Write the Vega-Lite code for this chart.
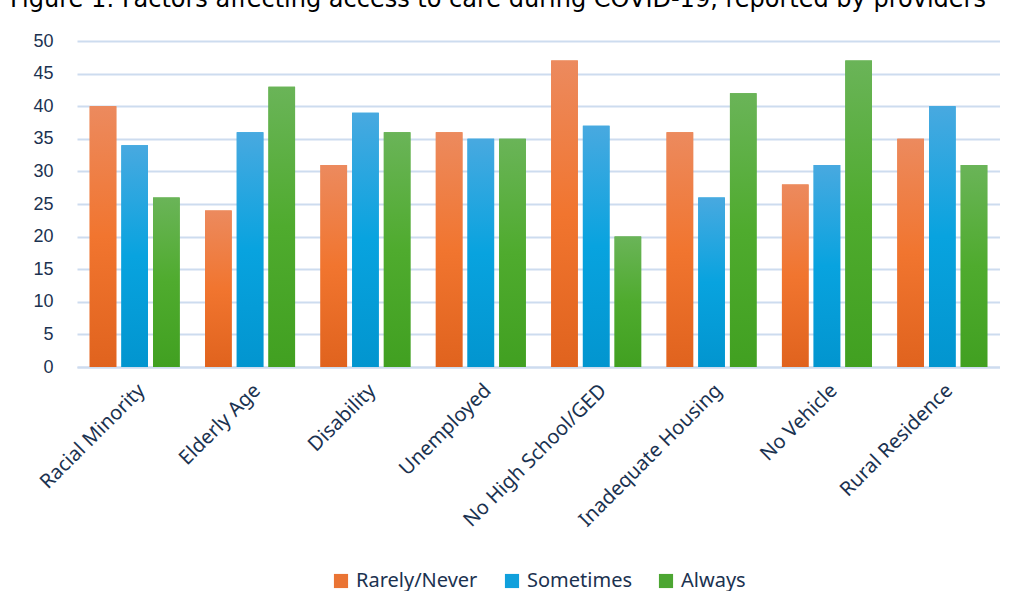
{
  "$schema": "https://vega.github.io/schema/vega-lite/v6.json",
  "width": 923,
  "height": 326,
  "padding": {"left": 10, "top": -12, "right": 0, "bottom": 0},
  "background": "white",
  "title": {
    "text": "Figure 1: Factors affecting access to care during COVID-19, reported by providers",
    "anchor": "start",
    "frame": "group",
    "font": "DejaVu Sans",
    "fontSize": 24,
    "fontWeight": "normal",
    "color": "#000000",
    "offset": 20,
    "dx": -67
  },
  "data": {
    "values": [
      {"Factor": "Racial Minority", "Response": "Rarely/Never", "Value": 40},
      {"Factor": "Racial Minority", "Response": "Sometimes", "Value": 34},
      {"Factor": "Racial Minority", "Response": "Always", "Value": 26},
      {"Factor": "Elderly Age", "Response": "Rarely/Never", "Value": 24},
      {"Factor": "Elderly Age", "Response": "Sometimes", "Value": 36},
      {"Factor": "Elderly Age", "Response": "Always", "Value": 43},
      {"Factor": "Disability", "Response": "Rarely/Never", "Value": 31},
      {"Factor": "Disability", "Response": "Sometimes", "Value": 39},
      {"Factor": "Disability", "Response": "Always", "Value": 36},
      {"Factor": "Unemployed", "Response": "Rarely/Never", "Value": 36},
      {"Factor": "Unemployed", "Response": "Sometimes", "Value": 35},
      {"Factor": "Unemployed", "Response": "Always", "Value": 35},
      {"Factor": "No High School/GED", "Response": "Rarely/Never", "Value": 47},
      {"Factor": "No High School/GED", "Response": "Sometimes", "Value": 37},
      {"Factor": "No High School/GED", "Response": "Always", "Value": 20},
      {"Factor": "Inadequate Housing", "Response": "Rarely/Never", "Value": 36},
      {"Factor": "Inadequate Housing", "Response": "Sometimes", "Value": 26},
      {"Factor": "Inadequate Housing", "Response": "Always", "Value": 42},
      {"Factor": "No Vehicle", "Response": "Rarely/Never", "Value": 28},
      {"Factor": "No Vehicle", "Response": "Sometimes", "Value": 31},
      {"Factor": "No Vehicle", "Response": "Always", "Value": 47},
      {"Factor": "Rural Residence", "Response": "Rarely/Never", "Value": 35},
      {"Factor": "Rural Residence", "Response": "Sometimes", "Value": 40},
      {"Factor": "Rural Residence", "Response": "Always", "Value": 31}
    ]
  },
  "encoding": {
    "x": {
      "field": "Factor",
      "type": "nominal",
      "sort": null,
      "scale": {"paddingInner": 0.22, "paddingOuter": 0.11},
      "axis": {
        "title": null,
        "labelAngle": -45,
        "labelFont": "Noto Sans",
        "labelFontSize": 20,
        "labelColor": "#1b3250",
        "labelPadding": 13,
        "labelLimit": 400,
        "ticks": false,
        "domainColor": "#cddcef",
        "domainWidth": 2
      }
    },
    "xOffset": {
      "field": "Response",
      "type": "nominal",
      "sort": ["Rarely/Never", "Sometimes", "Always"],
      "scale": {"domain": ["Rarely/Never", "Sometimes", "Always"], "paddingInner": 0.16, "paddingOuter": 0}
    },
    "y": {
      "field": "Value",
      "type": "quantitative",
      "scale": {"domain": [0, 50], "nice": false},
      "axis": {
        "title": null,
        "values": [0, 5, 10, 15, 20, 25, 30, 35, 40, 45, 50],
        "labelFont": "Liberation Sans",
        "labelFontSize": 18,
        "labelColor": "#1b3250",
        "labelPadding": 24,
        "ticks": false,
        "domain": false,
        "gridColor": "#cddcef",
        "gridWidth": 2
      }
    }
  },
  "layer": [
    {
      "mark": {"type": "bar"},
      "encoding": {
        "color": {
          "field": "Response",
          "type": "nominal",
          "sort": ["Rarely/Never", "Sometimes", "Always"],
          "scale": {"domain": ["Rarely/Never", "Sometimes", "Always"], "range": ["#ea7434", "#10a0dc", "#4ca632"]},
          "legend": {
            "title": null,
            "orient": "bottom",
            "direction": "horizontal",
            "symbolType": "square",
            "symbolSize": 200,
            "symbolStrokeWidth": 0,
            "labelFont": "Noto Sans",
            "labelFontSize": 20,
            "labelColor": "#1b3250",
            "labelOffset": 5,
            "labelLimit": 300,
            "columnPadding": 24,
            "offset": 40
          }
        }
      }
    },
    {
      "transform": [{"filter": "datum.Response === 'Rarely/Never'"}],
      "mark": {
        "type": "bar",
        "color": {"gradient": "linear", "x1": 0, "y1": 0, "x2": 0, "y2": 1,
          "stops": [{"offset": 0, "color": "#ec8a5e"}, {"offset": 0.5, "color": "#f1752f"}, {"offset": 1, "color": "#e0631e"}]}
      }
    },
    {
      "transform": [{"filter": "datum.Response === 'Sometimes'"}],
      "mark": {
        "type": "bar",
        "color": {"gradient": "linear", "x1": 0, "y1": 0, "x2": 0, "y2": 1,
          "stops": [{"offset": 0, "color": "#48a9e0"}, {"offset": 0.5, "color": "#08a3df"}, {"offset": 1, "color": "#0295cf"}]}
      }
    },
    {
      "transform": [{"filter": "datum.Response === 'Always'"}],
      "mark": {
        "type": "bar",
        "color": {"gradient": "linear", "x1": 0, "y1": 0, "x2": 0, "y2": 1,
          "stops": [{"offset": 0, "color": "#6ab458"}, {"offset": 0.5, "color": "#4fab2e"}, {"offset": 1, "color": "#41a021"}]}
      }
    }
  ],
  "config": {
    "view": {"stroke": null},
    "legend": {"layout": {"bottom": {"anchor": "middle"}}}
  }
}
